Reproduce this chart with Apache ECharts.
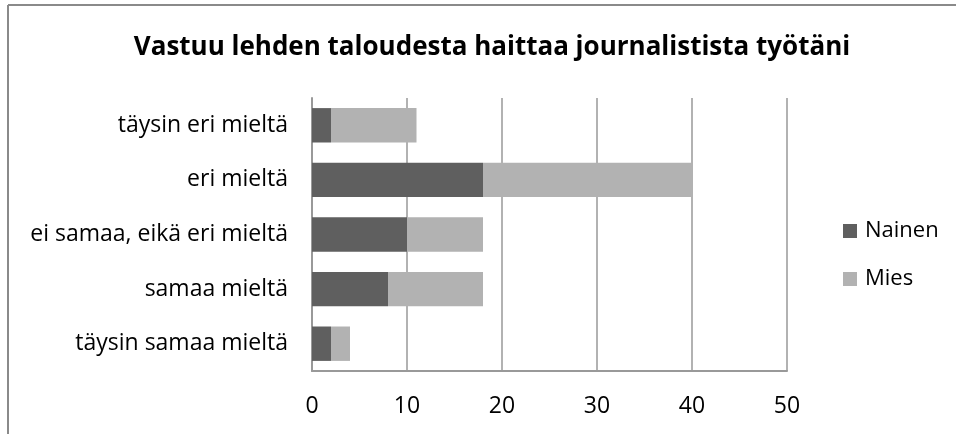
<!DOCTYPE html>
<html>
<head>
<meta charset="utf-8">
<script src="https://cdn.jsdelivr.net/npm/echarts@6/dist/echarts.min.js"></script>
<style>
html,body{margin:0;padding:0;background:#fff;}
#chart{width:956px;height:434px;}
</style>
</head>
<body>
<div id="chart"></div>
<script>
const titleText = 'Vastuu lehden taloudesta haittaa journalistista työtäni';
const categories = ['täysin eri mieltä', 'eri mieltä', 'ei samaa, eikä eri mieltä', 'samaa mieltä', 'täysin samaa mieltä'];
const seriesNames = ['Nainen', 'Mies'];
const nainen = [2, 18, 10, 8, 2];
const mies = [9, 22, 8, 10, 2];
const xTicks = [0, 10, 20, 30, 40, 50];

const FONT = 'Open Sans';
const chart = echarts.init(document.getElementById('chart'), null, {renderer: 'canvas'});
chart.setOption({
  animation: false,
  backgroundColor: '#fff',
  title: {
    text: titleText,
    left: 487, top: 30, textAlign: 'center',
    textStyle: {fontFamily: FONT, fontWeight: 'bold', fontSize: 26, color: '#000'}
  },
  legend: {
    orient: 'vertical',
    left: 843, top: 220, padding: 0,
    itemWidth: 14, itemHeight: 14, itemGap: 26,
    icon: 'rect',
    textStyle: {fontFamily: FONT, fontSize: 22, color: '#000', padding: [0, 0, 0, 3]},
    data: seriesNames
  },
  grid: {left: 312, right: 169, top: 98, bottom: 63, containLabel: false},
  xAxis: {
    type: 'value', min: xTicks[0], max: xTicks[xTicks.length - 1], interval: 10,
    axisLine: {show: true, lineStyle: {color: '#999', width: 2}},
    axisTick: {show: false},
    splitLine: {show: true, lineStyle: {color: '#999', width: 1.5}},
    axisLabel: {fontFamily: FONT, fontSize: 23, color: '#000', margin: 24}
  },
  yAxis: {
    type: 'category', inverse: true, data: categories,
    axisLine: {show: true, lineStyle: {color: '#999', width: 2}},
    axisTick: {show: false},
    axisLabel: {fontFamily: FONT, fontSize: 23, color: '#000', margin: 24}
  },
  series: [
    {name: seriesNames[0], type: 'bar', stack: 's', data: nainen, barCategoryGap: '37%', itemStyle: {color: '#5f5f5f'}},
    {name: seriesNames[1], type: 'bar', stack: 's', data: mies, barCategoryGap: '37%', itemStyle: {color: '#b2b2b2'}}
  ],
  graphic: [
    {type: 'line', shape: {x1: 8, y1: 5, x2: 956, y2: 5}, style: {stroke: '#8a8a8a', lineWidth: 2}},
    {type: 'line', shape: {x1: 8, y1: 5, x2: 8, y2: 434}, style: {stroke: '#8a8a8a', lineWidth: 2}}
  ]
});
</script>
</body>
</html>
